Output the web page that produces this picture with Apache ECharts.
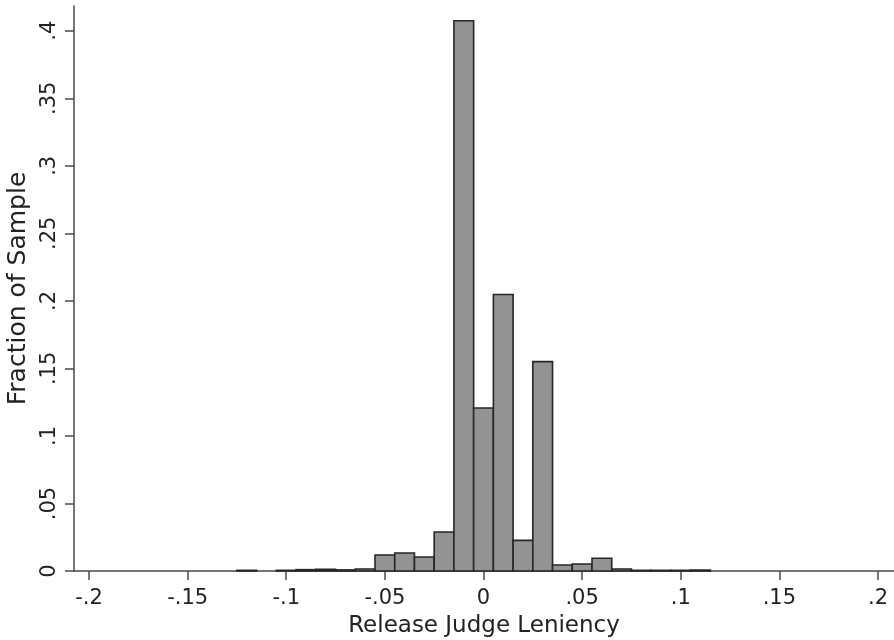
<!DOCTYPE html>
<html>
<head>
<meta charset="utf-8">
<script src="https://cdn.jsdelivr.net/npm/echarts@6/dist/echarts.min.js"></script>
<style>
  html, body { margin: 0; padding: 0; background: #fff; }
  #chart { width: 894px; height: 640px; }
</style>
</head>
<body>
<div id="chart"></div>
<script>
// histogram bins (centre of each bin) and the fraction of sample in each
const binCenters = [-0.12, -0.10, -0.09, -0.08, -0.07, -0.06, -0.05, -0.04, -0.03, -0.02, -0.01,
    0, 0.01, 0.02, 0.03, 0.04, 0.05, 0.06, 0.07, 0.08, 0.09, 0.10, 0.11];
const fractions = [0.0005, 0.0005, 0.001, 0.0012, 0.0008, 0.0015, 0.0119, 0.0133, 0.0104, 0.0289, 0.4074,
    0.1207, 0.2047, 0.0227, 0.155, 0.0044, 0.0052, 0.0094, 0.0015, 0.0005, 0.0005, 0.0005, 0.0007];
const binWidth = 0.01;

const xTicks = [-0.2, -0.15, -0.1, -0.05, 0, 0.05, 0.1, 0.15, 0.2];
const xTickLabels = ["-.2", "-.15", "-.1", "-.05", "0", ".05", ".1", ".15", ".2"];
const yTicks = [0, 0.05, 0.1, 0.15, 0.2, 0.25, 0.3, 0.35, 0.4];
const yTickLabels = ["0", ".05", ".1", ".15", ".2", ".25", ".3", ".35", ".4"];

const FONT = "DejaVu Sans";
const INK = "#222";
const AXIS = "#4a4a4a";

function labelFor(ticks, labels) {
    return v => {
        const i = ticks.findIndex(t => Math.abs(t - v) < 1e-9);
        return i >= 0 ? labels[i] : "";
    };
}

const chart = echarts.init(document.getElementById("chart"));

chart.setOption({
    animation: false,
    backgroundColor: "#fff",
    grid: { left: 74, right: 0, top: 6, bottom: 69, containLabel: false, outerBoundsMode: "none" },
    xAxis: {
        type: "value",
        min: -0.2076,
        max: 0.2081,
        name: "Release Judge Leniency",
        nameLocation: "middle",
        nameGap: 44,
        nameTextStyle: { fontFamily: FONT, fontSize: 23, color: INK },
        axisLine: { show: true, onZero: false, lineStyle: { color: AXIS, width: 1.5 } },
        axisTick: { show: true, length: 9, customValues: xTicks, lineStyle: { color: AXIS, width: 1.5 } },
        axisLabel: {
            customValues: xTicks,
            formatter: labelFor(xTicks, xTickLabels),
            margin: 17,
            fontFamily: FONT,
            fontSize: 21,
            color: INK
        },
        splitLine: { show: false }
    },
    yAxis: {
        type: "value",
        min: 0,
        max: 0.4183,
        name: "Fraction of Sample",
        nameLocation: "middle",
        nameGap: 42,
        nameRotate: 90,
        nameTextStyle: { fontFamily: FONT, fontSize: 25, color: INK },
        axisLine: { show: true, onZero: false, lineStyle: { color: AXIS, width: 1.5 } },
        axisTick: { show: true, length: 9, customValues: yTicks, lineStyle: { color: AXIS, width: 1.5 } },
        axisLabel: {
            customValues: yTicks,
            formatter: labelFor(yTicks, yTickLabels),
            rotate: 90,
            margin: 14,
            fontFamily: FONT,
            fontSize: 21,
            color: INK
        },
        splitLine: { show: false }
    },
    series: [{
        type: "custom",
        data: binCenters.map((c, i) => [c, fractions[i]]),
        renderItem: (params, api) => {
            const topLeft = api.coord([api.value(0) - binWidth / 2, api.value(1)]);
            const bottomRight = api.coord([api.value(0) + binWidth / 2, 0]);
            return {
                type: "rect",
                shape: {
                    x: topLeft[0],
                    y: topLeft[1],
                    width: bottomRight[0] - topLeft[0],
                    height: bottomRight[1] - topLeft[1]
                },
                style: { fill: "#939393", stroke: "#262626", lineWidth: 1.6 }
            };
        }
    }]
});
</script>
</body>
</html>
